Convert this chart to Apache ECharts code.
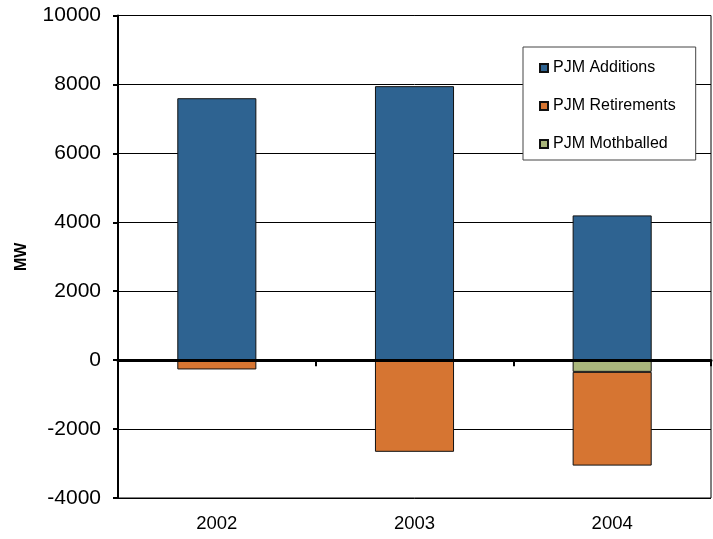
<!DOCTYPE html>
<html>
<head>
<meta charset="utf-8">
<script src="https://cdn.jsdelivr.net/npm/echarts@6/dist/echarts.min.js"></script>
<style>
html,body{margin:0;padding:0;background:#fff;}
#chart{width:713px;height:539px;}
</style>
</head>
<body>
<div id="chart"></div>
<script>
const categories = ['2002', '2003', '2004'];
const additions = [7600, 7950, 4200];
const retirements = [-270, -2660, -2720];
const mothballed = [null, null, -340];
const legendOrder = ['PJM Additions', 'PJM Retirements', 'PJM Mothballed'];
const yMin = -4000, yMax = 10000, yStep = 2000;
const yTitle = 'MW';

const chart = echarts.init(document.getElementById('chart'));
const font = 'Arial, "Liberation Sans", sans-serif';
const barBorder = { borderColor: '#111', borderWidth: 1 };

chart.setOption({
  animation: false,
  backgroundColor: '#fff',
  grid: {
    left: 118, right: 2, top: 15.5, bottom: 41,
    show: true, borderColor: '#000', borderWidth: 1, backgroundColor: 'transparent'
  },
  legend: {
    data: legendOrder,
    orient: 'vertical',
    left: 523, top: 47,
    backgroundColor: '#fff',
    borderColor: '#444', borderWidth: 1,
    padding: [13, 20, 8, 16],
    itemGap: 22,
    itemWidth: 8, itemHeight: 8,
    icon: 'rect',
    textStyle: { fontFamily: font, fontSize: 16, color: '#000', lineHeight: 15 }
  },
  xAxis: [
    {
      type: 'category', data: categories, position: 'bottom',
      axisLine: { show: false, onZero: false },
      axisTick: { show: false },
      axisLabel: { margin: 16, fontFamily: font, fontSize: 18.5, color: '#000' },
      splitLine: { show: false }
    },
    {
      type: 'category', data: categories, position: 'bottom', z: 10,
      axisLine: { show: true, onZero: true, lineStyle: { color: '#000', width: 3 } },
      axisTick: { show: true, length: 6, lineStyle: { color: '#000', width: 2 } },
      axisLabel: { show: false },
      splitLine: { show: false }
    }
  ],
  yAxis: {
    type: 'value', min: yMin, max: yMax, interval: yStep,
    name: yTitle, nameLocation: 'middle', nameRotate: 90, nameGap: 88,
    nameTextStyle: { fontFamily: font, fontSize: 16, fontWeight: 'bold', color: '#000' },
    axisLine: { show: true, lineStyle: { color: '#000', width: 2 } },
    axisTick: { show: true, length: 5, lineStyle: { color: '#000', width: 2 } },
    axisLabel: { margin: 17, fontFamily: font, fontSize: 21, color: '#000', formatter: v => String(v) },
    splitLine: { show: true, lineStyle: { color: '#000', width: 1 } }
  },
  series: [
    {
      name: 'PJM Additions', type: 'bar', stack: 'mw', data: additions,
      barWidth: '40%', itemStyle: Object.assign({ color: '#2E6391' }, barBorder)
    },
    {
      name: 'PJM Mothballed', type: 'bar', stack: 'mw', data: mothballed,
      barWidth: '40%', itemStyle: Object.assign({ color: '#ABB77C' }, barBorder)
    },
    {
      name: 'PJM Retirements', type: 'bar', stack: 'mw', data: retirements,
      barWidth: '40%', itemStyle: Object.assign({ color: '#D67532' }, barBorder)
    }
  ]
});
</script>
</body>
</html>
